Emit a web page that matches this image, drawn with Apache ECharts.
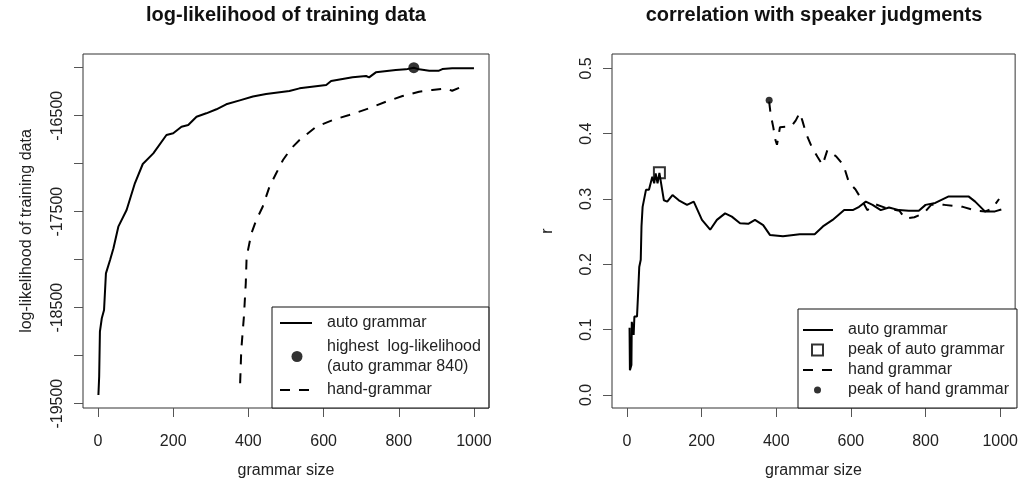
<!DOCTYPE html>
<html>
<head>
<meta charset="utf-8">
<script src="https://cdn.jsdelivr.net/npm/echarts@6/dist/echarts.min.js"></script>
<style>
  html, body { margin: 0; padding: 0; background: #fff; }
  #chart { width: 1021px; height: 492px; }
</style>
</head>
<body>
<div id="chart"></div>
<script>
// left panel: log-likelihood vs grammar size
var autoLL = [
    [1, -19409], [3, -19219], [5, -18750], [10, -18610], [16, -18524], [21, -18142],
    [32, -18003], [41, -17880], [54, -17656], [76, -17482], [98, -17204], [119, -17003],
    [147, -16892], [182, -16701], [200, -16683], [222, -16614], [240, -16597], [262, -16510],
    [288, -16475], [315, -16433], [341, -16381], [377, -16340], [412, -16300], [447, -16274],
    [509, -16243], [536, -16215], [607, -16180], [620, -16139], [677, -16100], [713, -16086],
    [721, -16100], [739, -16048], [792, -16024], [819, -16017], [840, -16000], [854, -16017],
    [881, -16031], [907, -16031], [916, -16014], [942, -16006], [1000, -16006]
];
var handLL = [
    [378, -19288], [381, -18941], [388, -18594], [393, -18246], [395, -18003], [399, -17899],
    [408, -17725], [421, -17586], [438, -17448], [456, -17240], [474, -17100], [492, -16961],
    [514, -16840], [536, -16753], [580, -16615], [624, -16545], [668, -16493], [721, -16423],
    [766, -16354], [810, -16295], [854, -16250], [889, -16232], [925, -16215], [942, -16240],
    [978, -16180]
];
var bestLL = [[840, -16000]];

// right panel: correlation r vs grammar size
var autoR = [
    [7, 0.103], [8, 0.038], [12, 0.046], [13, 0.112], [18, 0.092], [20, 0.12], [27, 0.12],
    [30, 0.156], [33, 0.196], [37, 0.207], [39, 0.258], [42, 0.288], [51, 0.314], [59, 0.314],
    [68, 0.334], [73, 0.324], [77, 0.339], [82, 0.324], [87, 0.34], [99, 0.298], [108, 0.296],
    [122, 0.306], [139, 0.298], [161, 0.291], [179, 0.296], [201, 0.268], [223, 0.253],
    [241, 0.268], [263, 0.278], [281, 0.273], [303, 0.263], [325, 0.262], [343, 0.268],
    [365, 0.26], [383, 0.245], [418, 0.243], [463, 0.246], [503, 0.246], [525, 0.258],
    [551, 0.268], [582, 0.283], [605, 0.283], [622, 0.288], [640, 0.296], [658, 0.291],
    [680, 0.283], [702, 0.287], [729, 0.283], [755, 0.282], [782, 0.282], [800, 0.291],
    [826, 0.294], [862, 0.304], [915, 0.304], [933, 0.296], [959, 0.281], [986, 0.281],
    [1003, 0.284]
];
var handR = [
    [381, 0.449], [385, 0.43], [392, 0.41], [398, 0.39], [402, 0.383], [410, 0.41],
    [440, 0.411], [452, 0.42], [463, 0.432], [470, 0.42], [480, 0.4], [495, 0.38],
    [510, 0.365], [524, 0.352], [537, 0.375], [561, 0.365], [580, 0.352], [595, 0.325],
    [612, 0.315], [628, 0.3], [644, 0.283], [665, 0.292], [700, 0.285], [730, 0.282],
    [745, 0.27], [770, 0.272], [795, 0.278], [815, 0.291], [850, 0.291], [900, 0.288],
    [935, 0.282], [960, 0.281], [978, 0.285], [997, 0.3]
];
var peakAutoR = [[87, 0.34]];
var peakHandR = [[381, 0.451]];

var xTicks = [0, 200, 400, 600, 800, 1000];
var llTicks = [-19500, -19000, -18500, -18000, -17500, -17000, -16500, -16000];
var llLabels = [-19500, -18500, -17500, -16500];
var rTicks = [0, 0.1, 0.2, 0.3, 0.4, 0.5];

var FONT = '"Liberation Sans", Arial, sans-serif';
var INK = '#222';

function svgIcon(body, w, h) {
    var svg = "<svg xmlns='http://www.w3.org/2000/svg' width='" + w + "' height='" + h + "'>" + body + "</svg>";
    return 'image://data:image/svg+xml;charset=utf-8,' + encodeURIComponent(svg);
}
function solidIcon(w) {
    return svgIcon("<line x1='0' y1='7' x2='" + w + "' y2='7' stroke='black' stroke-width='2'/>", w, 14);
}
function dashIcon(w) {
    return svgIcon("<line x1='0' y1='7' x2='" + w + "' y2='7' stroke='black' stroke-width='2' stroke-dasharray='10 9'/>", w, 14);
}

function xAxisFor(grid) {
    return {
        type: 'value', gridIndex: grid, min: -40, max: 1040,
        name: 'grammar size', nameLocation: 'middle', nameGap: 55,
        nameTextStyle: { fontFamily: FONT, fontSize: 16, color: INK },
        axisLine: { show: false, onZero: false },
        splitLine: { show: false },
        axisTick: { show: true, length: 9, customValues: xTicks, lineStyle: { color: '#555' } },
        axisLabel: {
            customValues: xTicks, margin: 26, fontFamily: FONT, fontSize: 16, color: INK,
            formatter: function (v) { return String(v); }
        }
    };
}

var option = {
    backgroundColor: '#fff',
    animation: false,
    title: [{
        text: 'log-likelihood of training data', left: 286, top: 5, textAlign: 'center', padding: 0,
        textStyle: { fontFamily: FONT, fontSize: 20, fontWeight: 'bold', color: '#111' }
    }, {
        text: 'correlation with speaker judgments', left: 814, top: 5, textAlign: 'center', padding: 0,
        textStyle: { fontFamily: FONT, fontSize: 20, fontWeight: 'bold', color: '#111' }
    }],
    grid: [
        { left: 83, top: 54, width: 406, height: 354, show: true, borderColor: '#333', borderWidth: 1, backgroundColor: 'transparent' },
        { left: 612, top: 54, width: 405, height: 354, show: true, borderColor: '#333', borderWidth: 1, backgroundColor: 'transparent' }
    ],
    xAxis: [xAxisFor(0), xAxisFor(1)],
    yAxis: [{
        type: 'value', gridIndex: 0, min: -19545, max: -15857,
        name: 'log-likelihood of training data', nameLocation: 'middle', nameGap: 48,
        nameTextStyle: { fontFamily: FONT, fontSize: 16, color: INK },
        axisLine: { show: false, onZero: false },
        splitLine: { show: false },
        axisTick: { show: true, length: 9, customValues: llTicks, lineStyle: { color: '#555' } },
        axisLabel: {
            customValues: llLabels, rotate: 90, margin: 17, fontFamily: FONT, fontSize: 16, color: INK,
            formatter: function (v) { return String(v); }
        }
    }, {
        type: 'value', gridIndex: 1, min: -0.02, max: 0.522,
        name: 'r', nameLocation: 'middle', nameGap: 56,
        nameTextStyle: { fontFamily: FONT, fontSize: 16, color: INK },
        axisLine: { show: false, onZero: false },
        splitLine: { show: false },
        axisTick: { show: true, length: 9, customValues: rTicks, lineStyle: { color: '#555' } },
        axisLabel: {
            customValues: rTicks, rotate: 90, margin: 17, fontFamily: FONT, fontSize: 16, color: INK,
            formatter: function (v) { return v.toFixed(1); }
        }
    }],
    legend: [{
        orient: 'vertical', left: 272, top: 307,
        padding: [6, 8, 8, 8], itemGap: 3.5, itemWidth: 32, itemHeight: 14,
        borderColor: '#111', borderWidth: 1, backgroundColor: '#fff',
        textStyle: { fontFamily: FONT, fontSize: 16, lineHeight: 20, color: INK, padding: [0, 0, 0, 10] },
        formatter: function (name) {
            return name === 'highest  log-likelihood' ? 'highest  log-likelihood\n(auto grammar 840)' : name;
        },
        data: [
            { name: 'auto grammar', icon: solidIcon(32) },
            { name: 'highest  log-likelihood', icon: svgIcon("<circle cx='17' cy='7' r='5.5' fill='black'/>", 32, 14) },
            { name: 'hand-grammar', icon: dashIcon(32) }
        ]
    }, {
        orient: 'vertical', left: 798, top: 309,
        padding: [11, 8, 8, 5], itemGap: 0, itemWidth: 30, itemHeight: 14,
        borderColor: '#111', borderWidth: 1, backgroundColor: '#fff',
        textStyle: { fontFamily: FONT, fontSize: 16, lineHeight: 20, color: INK, padding: [0, 0, 0, 10] },
        data: [
            { name: 'auto grammar', icon: solidIcon(30) },
            { name: 'peak of auto grammar', icon: svgIcon("<rect x='9' y='1.5' width='11' height='11' fill='none' stroke='black' stroke-width='2'/>", 30, 14) },
            { name: 'hand grammar', icon: dashIcon(30) },
            { name: 'peak of hand grammar', icon: svgIcon("<circle cx='14.5' cy='7' r='3.5' fill='black'/>", 30, 14) }
        ]
    }],
    series: [{
        name: 'auto grammar', type: 'line', xAxisIndex: 0, yAxisIndex: 0, data: autoLL,
        symbol: 'none', lineStyle: { color: '#000', width: 2 }, itemStyle: { color: '#000' }, z: 3
    }, {
        name: 'hand-grammar', type: 'line', xAxisIndex: 0, yAxisIndex: 0, data: handLL,
        symbol: 'none', lineStyle: { color: '#000', width: 2, type: [10, 9] }, itemStyle: { color: '#000' }
    }, {
        name: 'highest  log-likelihood', type: 'scatter', xAxisIndex: 0, yAxisIndex: 0, data: bestLL,
        symbol: 'circle', symbolSize: 11, itemStyle: { color: '#000' }, z: 4
    }, {
        name: 'auto grammar', type: 'line', xAxisIndex: 1, yAxisIndex: 1, data: autoR,
        symbol: 'none', lineStyle: { color: '#000', width: 2 }, itemStyle: { color: '#000' }, z: 3
    }, {
        name: 'hand grammar', type: 'line', xAxisIndex: 1, yAxisIndex: 1, data: handR,
        symbol: 'none', lineStyle: { color: '#000', width: 2, type: [10, 9] }, itemStyle: { color: '#000' }
    }, {
        name: 'peak of auto grammar', type: 'scatter', xAxisIndex: 1, yAxisIndex: 1, data: peakAutoR,
        symbol: 'rect', symbolSize: 11,
        itemStyle: { color: 'transparent', borderColor: '#000', borderWidth: 2 }, z: 4
    }, {
        name: 'peak of hand grammar', type: 'scatter', xAxisIndex: 1, yAxisIndex: 1, data: peakHandR,
        symbol: 'circle', symbolSize: 7, itemStyle: { color: '#000' }, z: 4
    }]
};

var chart = echarts.init(document.getElementById('chart'));
chart.setOption(option);
</script>
</body>
</html>
